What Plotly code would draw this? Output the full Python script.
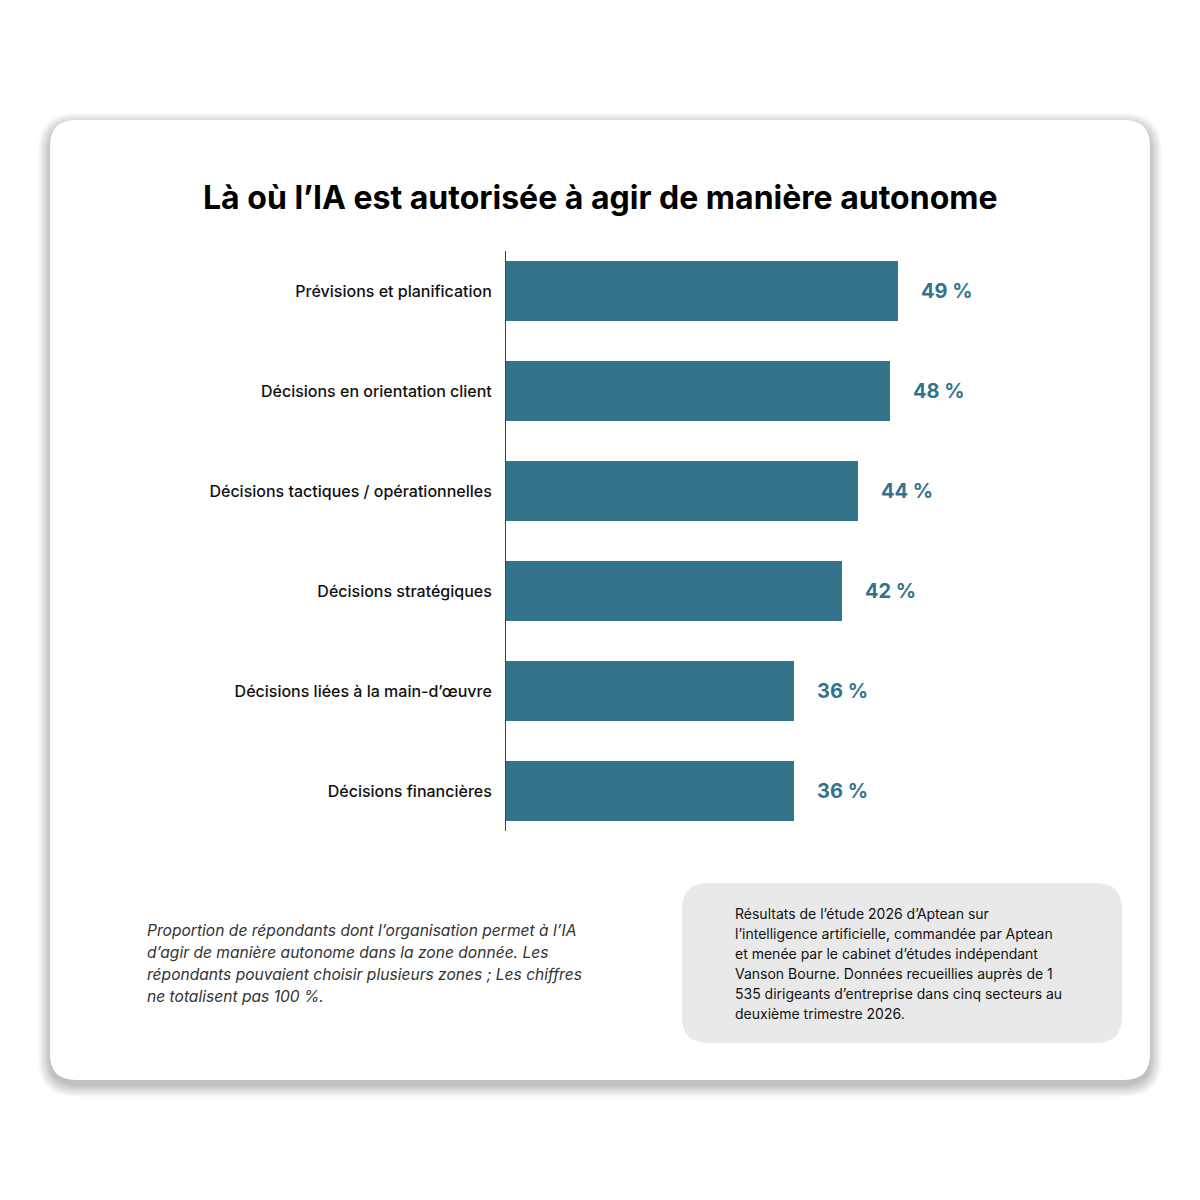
import plotly.graph_objects as go

categories = [
    "Prévisions et planification",
    "Décisions en orientation client",
    "Décisions tactiques / opérationnelles",
    "Décisions stratégiques",
    "Décisions liées à la main-d’œuvre",
    "Décisions financières",
]
values = [49, 48, 44, 42, 36, 36]
value_labels = ["49 %", "48 %", "44 %", "42 %", "36 %", "36 %"]

title_text = "Là où l’IA est autorisée à agir de manière autonome"
footnote_lines = [
    "Proportion de répondants dont l’organisation permet à l’IA",
    "d’agir de manière autonome dans la zone donnée. Les",
    "répondants pouvaient choisir plusieurs zones ; Les chiffres",
    "ne totalisent pas 100 %.",
]
source_lines = [
    "Résultats de l’étude 2026 d’Aptean sur",
    "l’intelligence artificielle, commandée par Aptean",
    "et menée par le cabinet d’études indépendant",
    "Vanson Bourne. Données recueillies auprès de 1",
    "535 dirigeants d’entreprise dans cinq secteurs au",
    "deuxième trimestre 2026.",
]

BAR = "#33738c"
W = H = 1200
FONT = "Inter, Noto Sans, sans-serif"


def px(x):
    return x / W


def py(y):
    return 1 - y / H


def rounded_rect(x0, y0, x1, y1, r):
    # pixel coords (y down) -> paper path
    a = lambda x, y: f"{px(x):.5f},{py(y):.5f}"
    return (
        f"M {a(x0 + r, y0)} L {a(x1 - r, y0)} Q {a(x1, y0)} {a(x1, y0 + r)} "
        f"L {a(x1, y1 - r)} Q {a(x1, y1)} {a(x1 - r, y1)} "
        f"L {a(x0 + r, y1)} Q {a(x0, y1)} {a(x0, y1 - r)} "
        f"L {a(x0, y0 + r)} Q {a(x0, y0)} {a(x0 + r, y0)} Z"
    )


shapes = []
# soft card shadow, stacked translucent layers offset downward
for g in range(12, -1, -1):
    shapes.append(dict(type="path", xref="paper", yref="paper", layer="below",
                       path=rounded_rect(50 - g, 120 - g + 5, 1150 + g, 1080 + g + 5, 26 + g),
                       fillcolor="rgba(0,0,0,0.018)", line=dict(width=0)))
shapes.append(dict(type="path", xref="paper", yref="paper", layer="below",
                   path=rounded_rect(50, 120, 1150, 1080, 26),
                   fillcolor="white", line=dict(width=0)))
shapes.append(dict(type="path", xref="paper", yref="paper", layer="below",
                   path=rounded_rect(682, 883, 1122, 1043, 26),
                   fillcolor="#e9e9e9", line=dict(width=0)))

fig = go.Figure(go.Bar(
    x=values, y=categories, orientation="h",
    marker=dict(color=BAR, line=dict(width=0)),
    width=0.6, hoverinfo="skip",
))

annotations = [
    dict(x=v, y=c, xref="x", yref="y", text=t, showarrow=False,
         xanchor="left", xshift=21, font=dict(family=FONT, size=20, color=BAR, weight="bold"))
    for v, c, t in zip(values, categories, value_labels)
]
annotations.append(dict(x=0.5, y=py(197), xref="paper", yref="paper", text=title_text,
                        showarrow=False, xanchor="center", yanchor="middle",
                        font=dict(family=FONT, size=32, color="#000", weight="bold")))
for i, line in enumerate(footnote_lines):
    annotations.append(dict(x=px(145), y=py(930 + 22 * i), xref="paper", yref="paper",
                            text=line, showarrow=False, xanchor="left", yanchor="middle",
                            font=dict(family=FONT, size=15.6, color="#333", style="italic")))
for i, line in enumerate(source_lines):
    annotations.append(dict(x=px(733), y=py(913 + 20 * i), xref="paper", yref="paper",
                            text=line, showarrow=False, xanchor="left", yanchor="middle",
                            font=dict(family=FONT, size=14, color="#111")))

fig.update_layout(
    width=W, height=H,
    margin=dict(l=0, r=0, t=0, b=0, pad=0),
    paper_bgcolor="white", plot_bgcolor="rgba(0,0,0,0)",
    showlegend=False,
    shapes=shapes,
    annotations=annotations,
    font=dict(family=FONT),
    xaxis=dict(domain=[px(506), px(1066)], range=[0, 70], visible=False, fixedrange=True),
    yaxis=dict(domain=[py(831), py(251)], range=[5.4, -0.4], autorange=False,
               categoryorder="array", categoryarray=categories,
               showline=True, linecolor="#2f4550", linewidth=1, showgrid=False,
               zeroline=False, ticks="", ticklabelstandoff=10, fixedrange=True,
               tickfont=dict(family=FONT, size=16, color="#111", weight=500)),
)

fig.write_html("out.html", config={"displayModeBar": False},
               post_script="document.body.style.margin='0';")
